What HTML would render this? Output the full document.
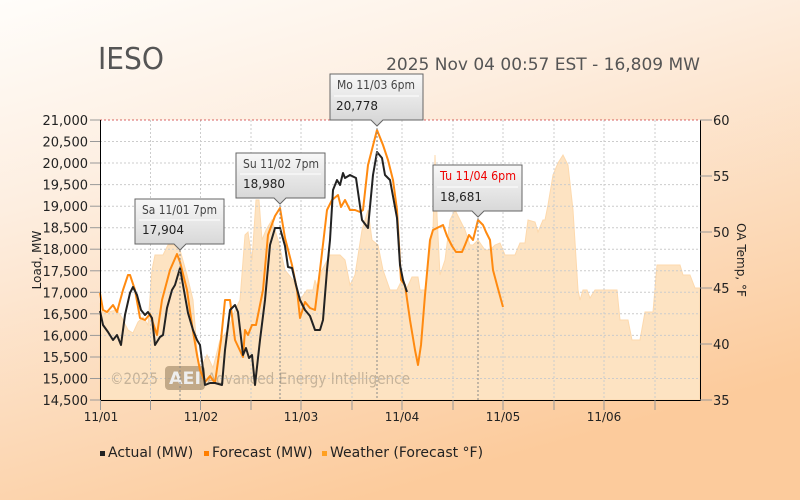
<!DOCTYPE html>
<html><head><meta charset="utf-8"><style>
body{margin:0;width:800px;height:500px;overflow:hidden}
svg{display:block;font-family:"DejaVu Sans","Liberation Sans",sans-serif}
</style></head><body>
<svg width="800" height="500" viewBox="0 0 800 500" xmlns="http://www.w3.org/2000/svg">
<defs>
<linearGradient id="bg" x1="0" y1="0" x2="0.45" y2="1">
<stop offset="0" stop-color="#fffdfa"/><stop offset="0.35" stop-color="#fdeee0"/><stop offset="1" stop-color="#fccb9c"/>
</linearGradient>
<linearGradient id="tt" x1="0" y1="0" x2="0" y2="1"><stop offset="0" stop-color="#f8f8f8"/><stop offset="1" stop-color="#d4d4d4"/></linearGradient>
</defs>
<rect width="800" height="500" fill="url(#bg)"/>
<rect x="100" y="120" width="600" height="280" fill="#fff"/>
<polygon fill="#fde3c2" stroke="#fdd9ad" stroke-width="1" points="100,400 100,303 103,313 108,312 117,310 122,318 128,330 133,333 138,322 143,317 148,325 152,270 155,255 163,255 168,245 175,245 180,250 187,275 193,300 197,350 200,370 207,355 213,368 220,340 228,330 235,310 240,300 245,235 248,232 252,260 256,200 259,200 262,240 266,230 272,220 278,240 285,270 293,280 300,300 307,290 313,290 315,280 318,290 322,270 330,255 340,255 345,260 350,285 355,275 362,230 368,210 372,240 378,245 383,270 390,290 397,290 402,280 406,290 412,277 418,277 420,290 425,290 430,250 433,230 435,155 437,215 440,275 445,260 450,220 455,210 460,220 465,230 470,245 473,245 478,240 485,250 490,250 495,245 500,243 505,255 515,255 520,243 525,243 528,220 535,222 538,232 543,220 545,220 548,205 553,175 558,163 563,155 568,165 573,210 578,290 580,300 583,290 587,290 590,298 595,290 617,290 620,320 628,320 632,340 640,340 645,312 653,312 657,265 680,265 683,275 690,275 695,288 700,288 700,400"/>
<g stroke="#ccc" stroke-dasharray="2,2" stroke-width="1">
<line x1="100" x2="700" y1="141.5" y2="141.5"/><line x1="100" x2="700" y1="163" y2="163"/><line x1="100" x2="700" y1="184.6" y2="184.6"/><line x1="100" x2="700" y1="206.2" y2="206.2"/><line x1="100" x2="700" y1="227.7" y2="227.7"/><line x1="100" x2="700" y1="249.2" y2="249.2"/><line x1="100" x2="700" y1="270.8" y2="270.8"/><line x1="100" x2="700" y1="292.3" y2="292.3"/><line x1="100" x2="700" y1="313.8" y2="313.8"/><line x1="100" x2="700" y1="335.4" y2="335.4"/><line x1="100" x2="700" y1="357" y2="357"/><line x1="100" x2="700" y1="378.5" y2="378.5"/>
<line y1="120" y2="400" x1="150.5" x2="150.5"/><line y1="120" y2="400" x1="200.5" x2="200.5"/><line y1="120" y2="400" x1="251" x2="251"/><line y1="120" y2="400" x1="301" x2="301"/><line y1="120" y2="400" x1="352" x2="352"/><line y1="120" y2="400" x1="402" x2="402"/><line y1="120" y2="400" x1="453" x2="453"/><line y1="120" y2="400" x1="503" x2="503"/><line y1="120" y2="400" x1="554" x2="554"/><line y1="120" y2="400" x1="604" x2="604"/><line y1="120" y2="400" x1="655" x2="655"/>
</g>
<line x1="100" x2="700" y1="120" y2="120" stroke="#c33" stroke-dasharray="2,2" stroke-width="0.8"/>
<text x="110" y="384" font-size="16" fill="#b9a890" opacity="0.8" textLength="48" lengthAdjust="spacingAndGlyphs">©2025</text>
<rect x="165" y="366" width="40" height="24" rx="4" fill="#a8906f" opacity="0.7"/>
<text x="169" y="384" font-size="17" font-weight="bold" fill="#eee" textLength="32" lengthAdjust="spacingAndGlyphs">AEI</text>
<text x="207" y="384" font-size="16" fill="#b9a890" opacity="0.8" textLength="203" lengthAdjust="spacingAndGlyphs">Advanced Energy Intelligence</text>
<polyline fill="none" stroke="#ff8a10" stroke-width="2" stroke-linejoin="round" points="100,293 103,310 107,312 113,305 117,312 123,290 128,275 130,275 135,290 140,318 145,320 150,314 157,335 162,300 170,270 177,254 180,262 187,290 192,325 197,355 200,370 205,382 210,376 215,383 221,340 225,300 230,300 235,340 243,357 245,330 248,335 252,325 256,325 263,290 268,235 275,216 280,208 285,238 292,265 297,290 300,318 305,302 310,308 315,310 320,270 327,210 332,200 338,195 341,207 345,200 350,210 355,210 360,212 363,210 368,165 377,130 383,145 388,160 393,180 397,210 401,280 405,285 410,320 415,350 418,365 421,345 425,295 430,240 433,230 437,228 443,225 447,236 452,246 456,252 462,252 465,245 469,235 473,240 478,220 483,225 486,232 490,240 493,270 497,285 503,307"/>
<polyline fill="none" stroke="#222" stroke-width="2" stroke-linejoin="round" points="100,311 103,325 108,332 113,340 117,335 121,345 125,315 130,293 133,287 137,295 141,310 145,315 148,312 152,318 155,345 160,337 163,335 167,308 172,290 175,285 180,268 183,285 188,313 193,330 197,340 200,345 205,385 210,383 215,383 222,385 225,350 230,310 235,305 238,312 243,355 246,348 249,358 252,355 255,385 260,340 265,300 270,245 275,228 280,228 285,246 288,267 292,268 296,285 300,300 305,310 310,316 315,330 320,330 323,320 327,270 330,240 333,190 337,180 340,185 343,173 345,178 350,175 356,178 362,220 368,228 373,175 377,152 382,158 385,175 390,180 397,218 400,265 403,280 407,292"/>
<g stroke="#888" stroke-dasharray="2,2"><line x1="180" x2="180" y1="250" y2="400"/><line x1="280" x2="280" y1="205" y2="400"/><line x1="377" x2="377" y1="128" y2="400"/><line x1="478" x2="478" y1="218" y2="400"/></g>
<line x1="100.5" y1="120" x2="100.5" y2="400" stroke="#000"/>
<line x1="700.5" y1="120" x2="700.5" y2="400" stroke="#000"/>
<line x1="100" y1="400.5" x2="701" y2="400.5" stroke="#000"/>
<g stroke="#999"><line x1="90" x2="100" y1="120" y2="120"/><line x1="90" x2="100" y1="141.5" y2="141.5"/><line x1="90" x2="100" y1="163" y2="163"/><line x1="90" x2="100" y1="184.6" y2="184.6"/><line x1="90" x2="100" y1="206.2" y2="206.2"/><line x1="90" x2="100" y1="227.7" y2="227.7"/><line x1="90" x2="100" y1="249.2" y2="249.2"/><line x1="90" x2="100" y1="270.8" y2="270.8"/><line x1="90" x2="100" y1="292.3" y2="292.3"/><line x1="90" x2="100" y1="313.8" y2="313.8"/><line x1="90" x2="100" y1="335.4" y2="335.4"/><line x1="90" x2="100" y1="357" y2="357"/><line x1="90" x2="100" y1="378.5" y2="378.5"/><line x1="90" x2="100" y1="400" y2="400"/>
<line x1="700" x2="712" y1="120" y2="120"/><line x1="700" x2="712" y1="176" y2="176"/><line x1="700" x2="712" y1="232" y2="232"/><line x1="700" x2="712" y1="288" y2="288"/><line x1="700" x2="712" y1="344" y2="344"/><line x1="700" x2="712" y1="400" y2="400"/>
<line x1="100.5" x2="100.5" y1="400" y2="410"/><line x1="150.5" x2="150.5" y1="400" y2="410"/><line x1="200.5" x2="200.5" y1="400" y2="410"/><line x1="251" x2="251" y1="400" y2="410"/><line x1="301" x2="301" y1="400" y2="410"/><line x1="352" x2="352" y1="400" y2="410"/><line x1="402" x2="402" y1="400" y2="410"/><line x1="453" x2="453" y1="400" y2="410"/><line x1="503" x2="503" y1="400" y2="410"/><line x1="554" x2="554" y1="400" y2="410"/><line x1="604" x2="604" y1="400" y2="410"/><line x1="655" x2="655" y1="400" y2="410"/></g>
<g font-size="13" fill="#222" text-anchor="end">
<text x="88" y="125">21,000</text><text x="88" y="146.5">20,500</text><text x="88" y="168">20,000</text><text x="88" y="189.6">19,500</text><text x="88" y="211.2">19,000</text><text x="88" y="232.7">18,500</text><text x="88" y="254.2">18,000</text><text x="88" y="275.8">17,500</text><text x="88" y="297.3">17,000</text><text x="88" y="318.8">16,500</text><text x="88" y="340.4">16,000</text><text x="88" y="362">15,500</text><text x="88" y="383.5">15,000</text><text x="88" y="405">14,500</text>
</g>
<g font-size="13" fill="#222"><text x="713" y="125">60</text><text x="713" y="181">55</text><text x="713" y="237">50</text><text x="713" y="293">45</text><text x="713" y="349">40</text><text x="713" y="405">35</text></g>
<g font-size="12" fill="#222" text-anchor="middle"><text x="101" y="421">11/01</text><text x="201" y="421">11/02</text><text x="301" y="421">11/03</text><text x="402" y="421">11/04</text><text x="503" y="421">11/05</text><text x="604" y="421">11/06</text></g>
<text transform="translate(41,260) rotate(-90)" font-size="12" fill="#222" text-anchor="middle">Load, MW</text>
<text transform="translate(737,260) rotate(90)" font-size="12" fill="#222" text-anchor="middle">OA Temp, °F</text>
<text x="98" y="69" font-size="30" fill="#555" textLength="66" lengthAdjust="spacingAndGlyphs">IESO</text>
<text x="700" y="70" font-size="17" fill="#555" text-anchor="end">2025 Nov 04 00:57 EST - 16,809 MW</text>
<g font-size="12">
<path d="M135,199H224V244H186L180,250L174,244H135Z" fill="url(#tt)" stroke="#666"/><line x1="139" x2="220" y1="220" y2="220" stroke="#fff"/>
<text x="142" y="214" fill="#444" textLength="75" lengthAdjust="spacingAndGlyphs">Sa 11/01 7pm</text><text x="142" y="234" fill="#222">17,904</text>
<path d="M236,153H325V198H286L280,204L274,198H236Z" fill="url(#tt)" stroke="#666"/><line x1="240" x2="321" y1="174" y2="174" stroke="#fff"/>
<text x="243" y="168" fill="#444" textLength="76" lengthAdjust="spacingAndGlyphs">Su 11/02 7pm</text><text x="243" y="188" fill="#222">18,980</text>
<path d="M330,74H423V120H383L377,126L371,120H330Z" fill="url(#tt)" stroke="#666"/><line x1="334" x2="419" y1="96" y2="96" stroke="#fff"/>
<text x="337" y="89" fill="#444" textLength="78" lengthAdjust="spacingAndGlyphs">Mo 11/03 6pm</text><text x="336" y="110" fill="#222">20,778</text>
<path d="M433,165H522V211H484L478,217L472,211H433Z" fill="url(#tt)" stroke="#666"/><line x1="437" x2="518" y1="187" y2="187" stroke="#fff"/>
<text x="440" y="180" fill="#e00" textLength="76" lengthAdjust="spacingAndGlyphs">Tu 11/04 6pm</text><text x="440" y="201" fill="#222">18,681</text>
</g>
<g font-size="14" fill="#222">
<rect x="100" y="451" width="5" height="5" fill="#222"/><text x="108" y="457">Actual (MW)</text>
<rect x="204" y="451" width="5" height="5" fill="#ff7f00"/><text x="212" y="457">Forecast (MW)</text>
<rect x="322" y="451" width="5" height="5" fill="#ffa020"/><text x="330" y="457">Weather (Forecast °F)</text>
</g>
</svg>
</body></html>
